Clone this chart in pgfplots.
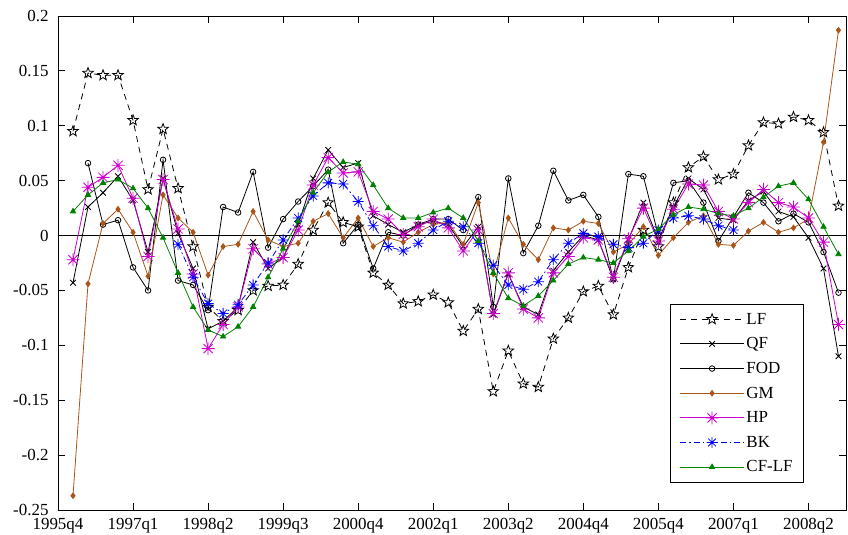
\documentclass[border=0pt]{standalone}
\usepackage{fontspec}
\setmainfont{Liberation Serif}
\usepackage{pgfplots}
\pgfplotsset{compat=1.18}
\usepackage{pgfplotstable}
\usetikzlibrary{plotmarks}

\definecolor{gmc}{RGB}{170,85,25}
\definecolor{hpc}{RGB}{204,0,204}
\definecolor{bkc}{RGB}{0,0,255}
\definecolor{cfc}{RGB}{0,130,0}

\pgfdeclareplotmark{pentastar}{%
  \pgfpathmoveto{\pgfpointpolar{90}{\pgfplotmarksize}}%
  \pgfpathlineto{\pgfpointpolar{126}{0.42\pgfplotmarksize}}%
  \pgfpathlineto{\pgfpointpolar{162}{\pgfplotmarksize}}%
  \pgfpathlineto{\pgfpointpolar{198}{0.42\pgfplotmarksize}}%
  \pgfpathlineto{\pgfpointpolar{234}{\pgfplotmarksize}}%
  \pgfpathlineto{\pgfpointpolar{270}{0.42\pgfplotmarksize}}%
  \pgfpathlineto{\pgfpointpolar{306}{\pgfplotmarksize}}%
  \pgfpathlineto{\pgfpointpolar{342}{0.42\pgfplotmarksize}}%
  \pgfpathlineto{\pgfpointpolar{18}{\pgfplotmarksize}}%
  \pgfpathlineto{\pgfpointpolar{54}{0.42\pgfplotmarksize}}%
  \pgfpathclose\pgfusepathqstroke}
\pgfdeclareplotmark{mstar}{%
  \pgfpathmoveto{\pgfpoint{-\pgfplotmarksize}{0pt}}\pgfpathlineto{\pgfpoint{\pgfplotmarksize}{0pt}}%
  \pgfpathmoveto{\pgfpoint{0pt}{-\pgfplotmarksize}}\pgfpathlineto{\pgfpoint{0pt}{\pgfplotmarksize}}%
  \pgfpathmoveto{\pgfpoint{-0.707\pgfplotmarksize}{-0.707\pgfplotmarksize}}\pgfpathlineto{\pgfpoint{0.707\pgfplotmarksize}{0.707\pgfplotmarksize}}%
  \pgfpathmoveto{\pgfpoint{-0.707\pgfplotmarksize}{0.707\pgfplotmarksize}}\pgfpathlineto{\pgfpoint{0.707\pgfplotmarksize}{-0.707\pgfplotmarksize}}%
  \pgfusepathqstroke}

\pgfplotstableread{
t v
1 0.095
2 0.148
3 0.146
4 0.146
5 0.105
6 0.042
7 0.097
8 0.043
9 -0.010
10 -0.065
11 -0.078
12 -0.068
13 -0.050
14 -0.046
15 -0.045
16 -0.026
17 0.005
18 0.030
19 0.012
20 0.008
21 -0.034
22 -0.045
23 -0.062
24 -0.060
25 -0.054
26 -0.061
27 -0.087
28 -0.067
29 -0.142
30 -0.105
31 -0.135
32 -0.138
33 -0.094
34 -0.075
35 -0.051
36 -0.046
37 -0.072
38 -0.029
39 0.005
40 -0.010
41 0.030
42 0.062
43 0.072
44 0.051
45 0.056
46 0.082
47 0.103
48 0.102
49 0.108
50 0.105
51 0.094
52 0.027
}\LF

\pgfplotstableread{
t v
1 -0.043
2 0.026
3 0.039
4 0.054
5 0.032
6 -0.015
7 0.052
8 0.002
9 -0.030
10 -0.085
11 -0.078
12 -0.065
13 -0.006
14 -0.030
15 -0.020
16 0.010
17 0.052
18 0.078
19 0.062
20 0.066
21 0.018
22 0.010
23 0.003
24 0.010
25 0.013
26 0.010
27 -0.010
28 0.008
29 -0.072
30 -0.035
31 -0.065
32 -0.072
33 -0.032
34 -0.015
35 0.000
36 -0.004
37 -0.040
38 -0.004
39 0.030
40 -0.004
41 0.026
42 0.052
43 0.042
44 0.016
45 0.014
46 0.032
47 0.040
48 0.022
49 0.017
50 -0.002
51 -0.030
52 -0.110
}\QF

\pgfplotstableread{
t v
2 0.066
3 0.010
4 0.014
5 -0.029
6 -0.050
7 0.069
8 -0.041
9 -0.045
10 -0.068
11 0.026
12 0.021
13 0.058
14 -0.011
15 0.015
16 0.031
17 0.045
18 0.060
19 -0.007
20 0.010
21 -0.030
22 0.003
23 0.000
24 0.010
25 0.015
26 0.015
27 0.005
28 0.035
29 -0.065
30 0.052
31 -0.016
32 0.009
33 0.059
34 0.032
35 0.037
36 0.017
37 -0.040
38 0.056
39 0.054
40 0.000
41 0.048
42 0.050
43 0.030
44 -0.005
45 0.017
46 0.039
47 0.030
48 0.013
49 0.020
50 0.012
51 -0.015
52 -0.052
}\FOD

\pgfplotstableread{
t v
1 -0.237
2 -0.044
3 0.011
4 0.024
5 0.003
6 -0.037
7 0.037
8 0.016
9 0.003
10 -0.036
11 -0.010
12 -0.008
13 0.022
14 -0.004
15 -0.010
16 -0.007
17 0.013
18 0.020
19 -0.002
20 0.016
21 -0.010
22 -0.002
23 -0.006
24 0.003
25 0.010
26 0.012
27 -0.008
28 0.030
29 -0.035
30 0.016
31 -0.008
32 -0.022
33 0.007
34 0.005
35 0.013
36 0.011
37 -0.015
38 -0.008
39 0.008
40 -0.018
41 -0.002
42 0.012
43 0.018
44 -0.008
45 -0.009
46 0.004
47 0.012
48 0.003
49 0.007
50 0.015
51 0.085
52 0.187
}\GM

\pgfplotstableread{
t v
1 -0.022
2 0.044
3 0.053
4 0.064
5 0.034
6 -0.019
7 0.051
8 0.006
9 -0.035
10 -0.103
11 -0.081
12 -0.065
13 -0.012
14 -0.026
15 -0.020
16 0.005
17 0.046
18 0.071
19 0.057
20 0.058
21 0.022
22 0.015
23 0.001
24 0.008
25 0.015
26 0.007
27 -0.014
28 0.005
29 -0.071
30 -0.034
31 -0.067
32 -0.075
33 -0.034
34 -0.019
35 -0.002
36 -0.004
37 -0.038
38 -0.003
39 0.025
40 -0.005
41 0.024
42 0.047
43 0.046
44 0.022
45 0.015
46 0.030
47 0.042
48 0.030
49 0.026
50 0.016
51 -0.006
52 -0.081
}\HP

\pgfplotstableread{
t v
8 -0.008
9 -0.038
10 -0.062
11 -0.071
12 -0.063
13 -0.045
14 -0.025
15 -0.004
16 0.016
17 0.036
18 0.048
19 0.047
20 0.031
21 0.009
22 -0.010
23 -0.014
24 -0.007
25 0.005
26 0.013
27 0.008
28 -0.007
29 -0.027
30 -0.045
31 -0.049
32 -0.042
33 -0.022
34 -0.007
35 0.002
36 -0.001
37 -0.008
38 -0.011
39 -0.007
40 0.005
41 0.016
42 0.018
43 0.015
44 0.009
45 0.005
}\BK

\pgfplotstableread{
t v
1 0.022
2 0.037
3 0.048
4 0.051
5 0.043
6 0.025
7 -0.002
8 -0.034
9 -0.065
10 -0.086
11 -0.092
12 -0.083
13 -0.065
14 -0.038
15 -0.012
16 0.013
17 0.039
18 0.058
19 0.067
20 0.065
21 0.046
22 0.025
23 0.016
24 0.016
25 0.021
26 0.025
27 0.016
28 -0.005
29 -0.034
30 -0.057
31 -0.064
32 -0.055
33 -0.041
34 -0.026
35 -0.020
36 -0.022
37 -0.025
38 -0.014
39 -0.001
40 0.006
41 0.019
42 0.026
43 0.024
44 0.020
45 0.018
46 0.025
47 0.035
48 0.045
49 0.048
50 0.033
51 0.008
52 -0.017
}\CF

\begin{document}
\begin{tikzpicture}
\begin{axis}[
  scale only axis, width=788bp, height=494bp,
  xmin=0, xmax=52.5, ymin=-0.25, ymax=0.2,
  xtick={0,5,10,15,20,25,30,35,40,45,50},
  xticklabels={1995q4,1997q1,1998q2,1999q3,2000q4,2002q1,2003q2,2004q4,2005q4,2007q1,2008q2},
  ytick={-0.25,-0.2,-0.15,-0.1,-0.05,0,0.05,0.1,0.15,0.2},
  yticklabels={-0.25,-0.2,-0.15,-0.1,-0.05,0,0.05,0.1,0.15,0.2},
  tick align=inside, xtick pos=both, ytick pos=both,
  major tick length=7bp,
  tick style={black, line width=0.8bp},
  axis line style={line width=0.8bp},
  ticklabel style={font=\fontsize{17}{20}\selectfont},
  xticklabel style={yshift=-5bp},
  yticklabel style={xshift=-6bp},
  every axis plot/.append style={line width=0.8bp},
  legend style={at={(0.777,0.055)}, anchor=south west, draw=black, line width=0.8bp, fill=white,
    font=\fontsize{17}{20}\selectfont, row sep=8bp, inner xsep=9bp, inner ysep=7bp},
  legend cell align=left,
  legend image code/.code={\draw[mark repeat=2,mark phase=2,#1] plot coordinates {(0bp,0bp) (32bp,0bp) (64bp,0bp)};},
]
\addplot[black, line width=0.8bp, forget plot] coordinates {(0,0) (52.5,0)};
\addplot[black, dash pattern=on 6bp off 5bp, mark=pentastar, mark size=5.5bp, mark options={solid, line width=0.8bp}] table[x=t,y=v] {\LF};
\addlegendentry{LF}
\addplot[black, mark=x, mark size=4bp, mark options={solid}] table[x=t,y=v] {\QF};
\addlegendentry{QF}
\addplot[black, mark=o, mark size=2.8bp, mark options={solid}] table[x=t,y=v] {\FOD};
\addlegendentry{FOD}
\addplot[gmc, mark=diamond*, mark size=2.8bp, mark options={solid, fill=gmc}] table[x=t,y=v] {\GM};
\addlegendentry{GM}
\addplot[hpc, mark=mstar, mark size=6.5bp, mark options={solid}] table[x=t,y=v] {\HP};
\addlegendentry{HP}
\addplot[bkc, dash pattern=on 6bp off 3bp on 1.5bp off 3bp, mark=mstar, mark size=5.5bp, mark options={solid}] table[x=t,y=v] {\BK};
\addlegendentry{BK}
\addplot[cfc, mark=triangle*, mark size=3bp, mark options={solid, fill=cfc}] table[x=t,y=v] {\CF};
\addlegendentry{CF-LF}
\end{axis}
\pgfresetboundingbox
\path[use as bounding box] ([shift={(-58bp,-25bp)}]current axis.south west) rectangle ([shift={(2bp,16bp)}]current axis.north east);
\end{tikzpicture}
\end{document}
